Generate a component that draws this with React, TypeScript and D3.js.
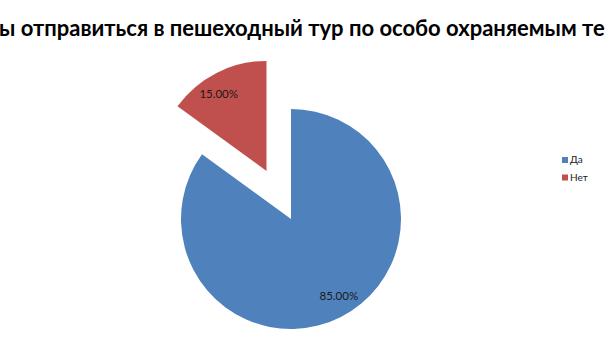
import React, { useLayoutEffect, useRef, useState } from "react";
import * as d3 from "d3";

const categories = ["Да", "Нет"];
const values = [85, 15];
const labels = ["85.00%", "15.00%"];
const colors = ["#4F81BD", "#C0504D"];
const title = "Готовы ли вы отправиться в пешеходный тур по особо охраняемым территориям?";
const visibleTitle = "ы отправиться в пешеходный тур по особо охраняемым те";

const W = 605;
const H = 340;
const FONT = "Lato, 'Open Sans', sans-serif";

export default function App() {
  const cx = 291;
  const cy = 219;
  const r = 110;
  const explode = [0, 54];
  const labelR = r * 0.82;
  const labelShift = (-5 * Math.PI) / 180;

  const titleRef = useRef<SVGTextElement>(null);
  const [tfs, setTfs] = useState(22);
  const [tx, setTx] = useState(0);

  useLayoutEffect(() => {
    const el = titleRef.current;
    if (!el) return;
    const start = title.indexOf(visibleTitle);
    try {
      const w = el.getSubStringLength(start, visibleTitle.length);
      const targetW = 606;
      if (Math.abs(w - targetW) > 1) {
        setTfs((f) => (f * targetW) / w);
        return;
      }
      const pre = el.getSubStringLength(0, start);
      setTx(-1 - pre);
    } catch (e) {
      /* ignore */
    }
  }, [tfs]);

  const pie = d3
    .pie<number>()
    .sort(null)
    .startAngle(0)
    .endAngle(2 * Math.PI)
    .value((d) => d);
  const arcs = pie(values);
  const arc = d3.arc<d3.PieArcDatum<number>>().innerRadius(0).outerRadius(r);

  return (
    <div style={{ position: "fixed", left: 0, top: 0, width: W, height: H, background: "#fff" }}>
      <svg width={W} height={H} style={{ display: "block" }}>
        <text
          ref={titleRef}
          x={tx}
          y={36}
          textAnchor="start"
          fontFamily={FONT}
          fontWeight="bold"
          fontSize={tfs}
          fill="#000"
        >
          {title}
        </text>
        {arcs.map((a, i) => {
          const mid = (a.startAngle + a.endAngle) / 2;
          const dx = Math.sin(mid) * explode[i];
          const dy = -Math.cos(mid) * explode[i];
          const la = mid + labelShift;
          const lx = Math.sin(la) * labelR;
          const ly = -Math.cos(la) * labelR;
          return (
            <g key={categories[i]} transform={`translate(${cx + dx},${cy + dy})`}>
              <path d={arc(a) || ""} fill={colors[i]} />
              <text
                x={lx}
                y={ly}
                dy="0.35em"
                textAnchor="middle"
                fontFamily={FONT}
                fontSize={11.5}
                fill="#1a1a1a"
              >
                {labels[i]}
              </text>
            </g>
          );
        })}
        {categories.map((c, i) => (
          <g key={c} transform={`translate(562,${157 + i * 17.5})`}>
            <rect x={0} y={0} width={6} height={6} fill={colors[i]} />
            <text x={8} y={6} fontFamily={FONT} fontSize={10} fill="#1a1a1a">
              {c}
            </text>
          </g>
        ))}
      </svg>
    </div>
  );
}
